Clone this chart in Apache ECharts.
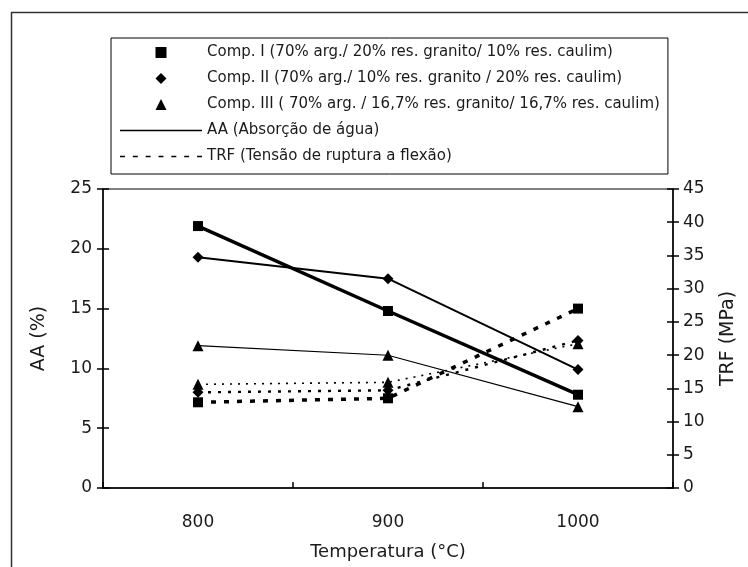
<!DOCTYPE html>
<html>
<head>
<meta charset="utf-8">
<script src="https://cdn.jsdelivr.net/npm/echarts@6/dist/echarts.min.js"></script>
<style>
  html, body { margin: 0; padding: 0; background: #fff; }
  #chart { width: 748px; height: 567px; }
</style>
</head>
<body>
<div id="chart"></div>
<script>
// temperatures (°C)
const temps = ['800', '900', '1000']

const compNames = [
  'Comp. I (70% arg./ 20% res. granito/ 10% res. caulim)',
  'Comp. II (70% arg./ 10% res. granito / 20% res. caulim)',
  'Comp. III ( 70% arg. / 16,7% res. granito/ 16,7% res. caulim)',
]
const aaName = 'AA (Absorção de água)'
const trfName = 'TRF (Tensão de ruptura a flexão)'

// AA (%) - left axis
const aaComp1 = [21.9, 14.8, 7.8]
const aaComp2 = [19.3, 17.5, 9.9]
const aaComp3 = [11.9, 11.1, 6.8]

// TRF (MPa) - right axis
const trfComp1 = [12.9, 13.5, 27.0]
const trfComp2 = [14.4, 14.7, 22.2]
const trfComp3 = [15.6, 15.9, 21.7]

const aaTicks = { min: 0, max: 25, interval: 5 }
const trfTicks = { min: 0, max: 45, interval: 5 }

const symbols = ['rect', 'diamond', 'triangle']
const symSizes = [10, 11, 11]
const aaWidths = [3.5, 2, 1.2]
const trfDash = [[5, 8], [3, 7], [2, 6]]
const trfWidths = [3.5, 2.4, 1.6]

const chart = echarts.init(document.getElementById('chart'))

const font = 'DejaVu Sans, Verdana, sans-serif'
const black = '#000'
const txt = '#1a1a1a'

const aaSeries = [aaComp1, aaComp2, aaComp3].map((d, i) => ({
  name: compNames[i], type: 'line', data: d, yAxisIndex: 0,
  symbol: symbols[i], symbolSize: symSizes[i],
  itemStyle: { color: black },
  lineStyle: { color: black, width: aaWidths[i] },
  z: 5,
}))
const trfSeries = [trfComp1, trfComp2, trfComp3].map((d, i) => ({
  name: compNames[i], type: 'line', data: d, yAxisIndex: 1,
  symbol: symbols[i], symbolSize: symSizes[i],
  itemStyle: { color: black },
  lineStyle: { color: black, width: trfWidths[i], type: trfDash[i] },
  z: 4,
}))

// legend icons
const squareIcon = 'path://M0,0 L10,0 L10,10 L0,10 Z'
const diamondIcon = 'path://M5,0 L10,5 L5,10 L0,5 Z'
const triangleIcon = 'path://M5,0 L10,10 L0,10 Z'
const linePath = 'path://M0,0 L82,0 L82,1.6 L0,1.6 Z'
let dotPath = 'path://'
for (let k = 0; k < 7; k++) {
  const x = k * 13
  dotPath += `M${x},0 L${x + 5},0 L${x + 5},1.6 L${x},1.6 Z `
}

const tickStyle = { color: black, width: 1.5 }
const plotRect = { left: 103, right: 75, top: 189, bottom: 79 }

chart.setOption({
  animation: false,
  textStyle: { fontFamily: font, color: txt },
  graphic: [{
    type: 'rect', left: 9, top: 10,
    shape: { width: 800, height: 600 },
    style: { fill: null, stroke: '#333', lineWidth: 1.5 },
    silent: true,
  }],
  legend: {
    orient: 'vertical', left: 111, top: 38,
    itemWidth: 82, itemHeight: 11, itemGap: 11,
    padding: [7, 8, 10, 9],
    borderColor: black, borderWidth: 1,
    textStyle: { fontFamily: font, fontSize: 15, lineHeight: 15, color: txt },
    data: [
      { name: compNames[0], icon: squareIcon },
      { name: compNames[1], icon: diamondIcon },
      { name: compNames[2], icon: triangleIcon },
      { name: aaName, icon: linePath },
      { name: trfName, icon: dotPath },
    ],
    selectedMode: false,
  },
  grid: [
    { ...plotRect, show: true, borderColor: black, borderWidth: 1 },
    { ...plotRect },
  ],
  xAxis: [{
    type: 'category', data: temps, boundaryGap: true,
    name: 'Temperatura (°C)', nameLocation: 'middle', nameGap: 55,
    nameTextStyle: { fontSize: 18, color: txt },
    axisLine: { lineStyle: { color: black, width: 1.5 } },
    axisTick: { length: 6, lineStyle: tickStyle },
    axisLabel: { fontSize: 17, margin: 26, color: txt },
  }, {
    type: 'category', data: temps, gridIndex: 1, position: 'bottom',
    axisLine: { show: false },
    axisTick: { show: true, inside: true, length: 6, lineStyle: tickStyle },
    axisLabel: { show: false },
  }],
  yAxis: [{
    type: 'value', position: 'left', ...aaTicks,
    name: 'AA (%)', nameLocation: 'middle', nameGap: 54, nameRotate: 90,
    nameTextStyle: { fontSize: 19, color: txt },
    axisLine: { show: true, lineStyle: { color: black, width: 1.5 } },
    axisTick: { show: true, length: 6, lineStyle: tickStyle },
    axisLabel: { fontSize: 17, margin: 11, color: txt },
    splitLine: { show: false },
  }, {
    type: 'value', position: 'right', ...trfTicks,
    name: 'TRF (MPa)', nameLocation: 'middle', nameGap: 46, nameRotate: 90,
    nameTextStyle: { fontSize: 19, color: txt },
    axisLine: { show: true, lineStyle: { color: black, width: 1.5 } },
    axisTick: { show: true, length: 6, lineStyle: tickStyle },
    axisLabel: { fontSize: 17, margin: 10, color: txt },
    splitLine: { show: false },
  }, {
    type: 'value', gridIndex: 1, position: 'left', ...aaTicks,
    axisLine: { show: false },
    axisTick: { show: true, inside: true, length: 6, lineStyle: tickStyle },
    axisLabel: { show: false }, splitLine: { show: false },
  }, {
    type: 'value', gridIndex: 1, position: 'right', ...trfTicks,
    axisLine: { show: false },
    axisTick: { show: true, inside: true, length: 6, lineStyle: tickStyle },
    axisLabel: { show: false }, splitLine: { show: false },
  }],
  series: [
    ...aaSeries,
    ...trfSeries,
    { name: aaName, type: 'line', data: [], symbol: 'none', itemStyle: { color: black }, lineStyle: { color: black } },
    { name: trfName, type: 'line', data: [], symbol: 'none', itemStyle: { color: black }, lineStyle: { color: black, type: 'dotted' } },
    // empty series that only carry the inner tick axes
    { type: 'line', xAxisIndex: 1, yAxisIndex: 2, data: [], silent: true },
    { type: 'line', xAxisIndex: 1, yAxisIndex: 3, data: [], silent: true },
  ],
})
</script>
</body>
</html>
